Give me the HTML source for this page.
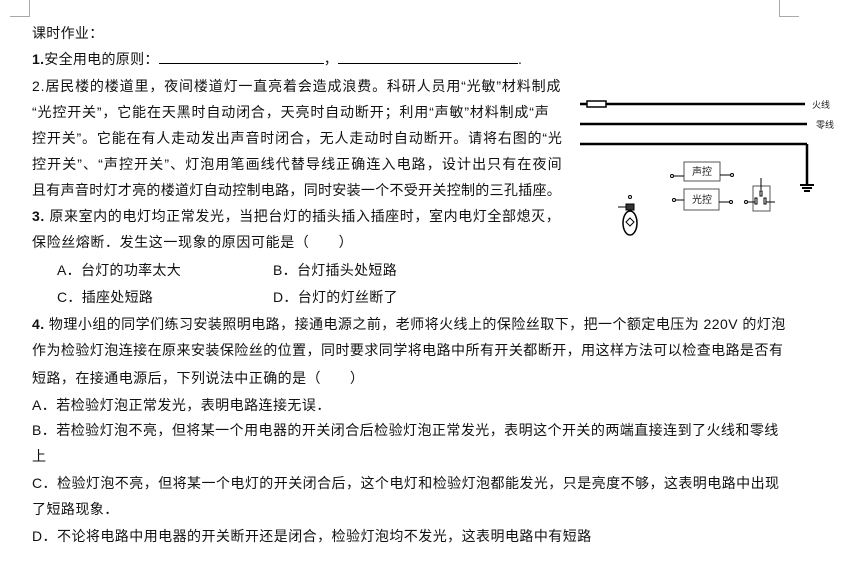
<!DOCTYPE html>
<html><head><meta charset="utf-8"><style>
body{margin:0;width:853px;height:561px;background:#fff;position:relative;overflow:hidden;font-family:"Liberation Sans","Noto Sans CJK SC",sans-serif;color:#111}
.l{position:absolute;left:32px;font-size:14px;line-height:20px;white-space:nowrap;letter-spacing:0.3px}
.w{letter-spacing:0.85px}
.q{letter-spacing:0.45px}
b{font-weight:bold}
</style></head><body>
<div style="position:absolute;left:29px;top:0;width:1px;height:17px;background:#aaa"></div>
<div style="position:absolute;left:10px;top:16px;width:20px;height:1px;background:#aaa"></div>
<div style="position:absolute;left:779px;top:0;width:1px;height:17px;background:#aaa"></div>
<div style="position:absolute;left:779px;top:16px;width:20px;height:1px;background:#aaa"></div>

<div class="l" style="top:23px">课时作业：</div>
<div class="l" style="top:49px"><b>1.</b>安全用电的原则：<span style="display:inline-block;width:165px;border-bottom:1px solid #000;height:14px"></span>，<span style="display:inline-block;width:180px;border-bottom:1px solid #000;height:14px"></span>.</div>
<div class="l w" style="top:76px">2.居民楼的楼道里，夜间楼道灯一直亮着会造成浪费。科研人员用“光敏”材料制成</div>
<div class="l w" style="top:102px">“光控开关”，它能在天黑时自动闭合，天亮时自动断开；利用“声敏”材料制成“声</div>
<div class="l w" style="top:128px">控开关”。它能在有人走动发出声音时闭合，无人走动时自动断开。请将右图的“光</div>
<div class="l" style="top:154px;letter-spacing:1.1px">控开关”、“声控开关”、灯泡用笔画线代替导线正确连入电路，设计出只有在夜间</div>
<div class="l" style="top:180px">且有声音时灯才亮的楼道灯自动控制电路，同时安装一个不受开关控制的三孔插座。</div>
<div class="l" style="top:206px;letter-spacing:0.6px"><b>3.</b> 原来室内的电灯均正常发光，当把台灯的插头插入插座时，室内电灯全部熄灭，</div>
<div class="l" style="top:232px;letter-spacing:0.6px">保险丝熔断．发生这一现象的原因可能是（　　）</div>
<div class="l" style="top:260px;left:57px">A．台灯的功率太大</div>
<div class="l" style="top:260px;left:273px">B．台灯插头处短路</div>
<div class="l" style="top:287px;left:57px">C．插座处短路</div>
<div class="l" style="top:287px;left:273px">D．台灯的灯丝断了</div>
<div class="l q" style="top:314px"><b>4.</b> 物理小组的同学们练习安装照明电路，接通电源之前，老师将火线上的保险丝取下，把一个额定电压为 220V 的灯泡</div>
<div class="l q" style="top:340px">作为检验灯泡连接在原来安装保险丝的位置，同时要求同学将电路中所有开关都断开，用这样方法可以检查电路是否有</div>
<div class="l q" style="top:368px">短路，在接通电源后，下列说法中正确的是（　　）</div>
<div class="l q" style="top:395px">A．若检验灯泡正常发光，表明电路连接无误．</div>
<div class="l q" style="top:420px">B．若检验灯泡不亮，但将某一个用电器的开关闭合后检验灯泡正常发光，表明这个开关的两端直接连到了火线和零线</div>
<div class="l" style="top:446px">上</div>
<div class="l q" style="top:473px">C．检验灯泡不亮，但将某一个电灯的开关闭合后，这个电灯和检验灯泡都能发光，只是亮度不够，这表明电路中出现</div>
<div class="l q" style="top:499px">了短路现象．</div>
<div class="l q" style="top:526px">D．不论将电路中用电器的开关断开还是闭合，检验灯泡均不发光，这表明电路中有短路</div>

<svg style="position:absolute;left:0;top:0" width="853" height="561">
<g stroke="#000" fill="none">
<line x1="580" y1="104" x2="805" y2="104" stroke-width="2.5"/>
<rect x="587" y="101" width="19" height="6" fill="#fff" stroke-width="1.5"/>
<line x1="580" y1="124" x2="807" y2="124" stroke-width="2.5"/>
<line x1="580" y1="144" x2="807" y2="144" stroke-width="2.5"/>
<line x1="807" y1="144" x2="807" y2="185" stroke-width="2.5"/>
<line x1="800" y1="185" x2="814" y2="185" stroke-width="2"/>
<line x1="802" y1="188" x2="812" y2="188" stroke-width="2"/>
<line x1="804" y1="191" x2="810" y2="191" stroke-width="2"/>
<rect x="684" y="162" width="36" height="19" stroke="#555"/>
<rect x="684" y="189" width="35" height="21" stroke="#555"/>
<line x1="674" y1="176" x2="684" y2="176"/><circle cx="672" cy="176" r="1.5"/>
<line x1="720" y1="175" x2="730" y2="175"/><circle cx="732" cy="175" r="1.5"/>
<line x1="676" y1="200" x2="684" y2="200"/><circle cx="674" cy="200" r="1.5"/>
<line x1="719" y1="202" x2="729" y2="202"/><circle cx="731" cy="202" r="1.5"/>
<rect x="753" y="186" width="17" height="25" stroke="#555"/>
<line x1="761" y1="178" x2="761" y2="190"/><rect x="760" y="191" width="2" height="5"/>
<rect x="755" y="198" width="2" height="6"/><rect x="764" y="198" width="2" height="6"/>
<line x1="748" y1="202" x2="755" y2="202"/><line x1="766" y1="202" x2="775" y2="202"/>
<circle cx="746" cy="202" r="1.5"/>
<circle cx="630" cy="197" r="1.5"/>
<rect x="626" y="204" width="8" height="6" fill="#333"/>
<line x1="618" y1="207" x2="626" y2="207"/>
<ellipse cx="630" cy="223" rx="7" ry="12" stroke-width="1.5"/>
<path d="M626 222 L630 218 L634 222 L630 226Z"/>
</g>
<g font-family="Liberation Sans,Noto Sans CJK SC,sans-serif" font-size="9" fill="#222">
<text x="812" y="108">火线</text>
<text x="816" y="128">零线</text>
<text x="692" y="175" font-size="10">声控</text>
<text x="692" y="203" font-size="10">光控</text>
</g>
</svg>
</body></html>
